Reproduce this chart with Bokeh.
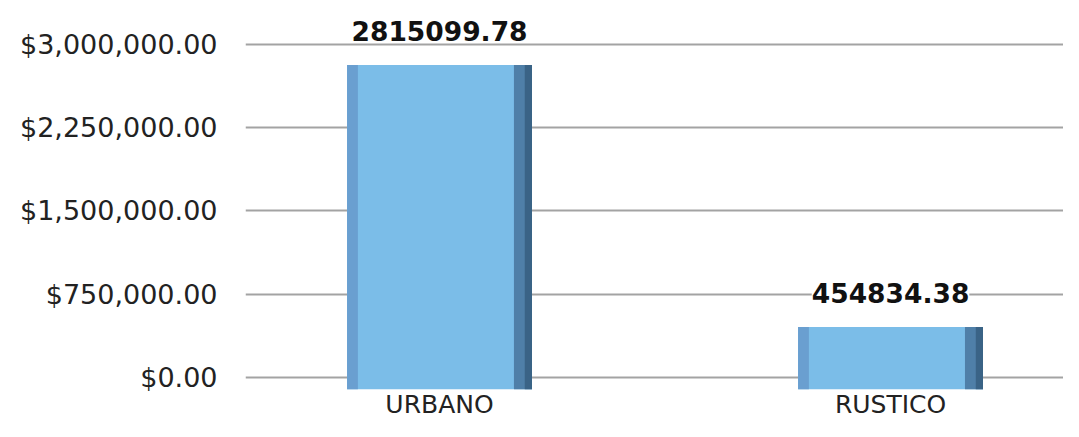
from bokeh.plotting import figure
from bokeh.models import ColumnDataSource, FixedTicker, NumeralTickFormatter, Range1d
from bokeh.core.properties import value
from bokeh.transform import dodge
from bokeh.embed import file_html
from bokeh.resources import INLINE

categories = ["URBANO", "RUSTICO"]
amounts = [2815099.78, 454834.38]
y_ticks = [0, 750000, 1500000, 2250000, 3000000]

xs = list(range(len(categories)))
labels = [f"{v:.2f}" for v in amounts]

y_start, y_end = -107784, 3395210
src = ColumnDataSource(dict(x=xs, top=amounts, bottom=[y_start] * len(xs), label=labels))

xr = Range1d(-0.4302, 1.3835)
p = figure(width=1063, height=421, output_backend="svg", toolbar_location=None,
           x_range=xr, y_range=Range1d(y_start, y_end),
           min_border_left=245, min_border_right=0, min_border_top=0, min_border_bottom=31)
p.outline_line_color = None
p.background_fill_color = "white"

bw = 0.41
p.vbar(x="x", top="top", bottom="bottom", width=bw, source=src,
       fill_color="#7bbde8", line_color=None)
p.vbar(x=dodge("x", -bw / 2 + 0.012, range=xr), top="top", bottom="bottom", width=0.024,
       source=src, fill_color="#6a9fd0", line_color=None)
p.vbar(x=dodge("x", bw / 2 - 0.02, range=xr), top="top", bottom="bottom", width=0.04,
       source=src, fill_color="#4f7fa8", line_color=None)
p.vbar(x=dodge("x", bw / 2 - 0.008, range=xr), top="top", bottom="bottom", width=0.016,
       source=src, fill_color="#3a6386", line_color=None)

p.text(x="x", y="top", text="label", source=src, text_align="center",
       text_baseline="bottom", y_offset=-24, text_font=value("DejaVu Sans"),
       text_font_style="bold", text_font_size="26.5px", text_color="#111111",
       background_fill_color="white")

p.xgrid.grid_line_color = None
p.ygrid.grid_line_color = "#a3a3a3"
p.ygrid.grid_line_width = 2
p.yaxis.ticker = FixedTicker(ticks=y_ticks)
p.yaxis.formatter = NumeralTickFormatter(format="$0,0.00")
p.xaxis.ticker = FixedTicker(ticks=xs)
p.xaxis.major_label_overrides = {i: c for i, c in enumerate(categories)}

for ax in (p.xaxis, p.yaxis):
    ax.axis_line_color = None
    ax.major_tick_line_color = None
    ax.minor_tick_line_color = None
    ax.major_label_text_font = "DejaVu Sans"
    ax.major_label_text_color = "#222222"
p.yaxis.major_label_text_font_size = "27px"
p.yaxis.major_label_standoff = 22
p.xaxis.major_label_text_font_size = "25px"
p.xaxis.major_label_standoff = -6

open("out.html", "w").write(file_html(p, INLINE))
